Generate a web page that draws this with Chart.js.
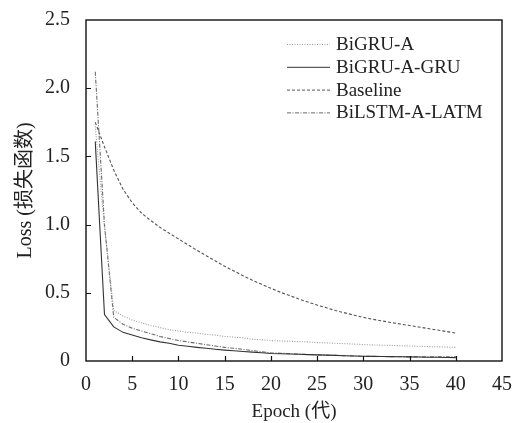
<!DOCTYPE html>
<html>
<head>
<meta charset="utf-8">
<script src="https://cdn.jsdelivr.net/npm/chart.js@4.4.0/dist/chart.umd.min.js"></script>
<style>
  html, body { margin: 0; padding: 0; background: #fff; }
</style>
</head>
<body>
<canvas id="lossChart" width="516" height="423"></canvas>
<script>
// values, one per epoch
const epochs = [1, 2, 3, 4, 5, 6, 7, 8, 9, 10, 11, 12, 13, 14, 15, 16, 17, 18, 19, 20,
  21, 22, 23, 24, 25, 26, 27, 28, 29, 30, 31, 32, 33, 34, 35, 36, 37, 38, 39, 40];

const bigruA = [1.72, 0.98, 0.37, 0.33, 0.30, 0.28, 0.26, 0.245, 0.23, 0.22,
  0.21, 0.205, 0.195, 0.19, 0.18, 0.175, 0.17, 0.16, 0.155, 0.15,
  0.147, 0.145, 0.142, 0.14, 0.135, 0.133, 0.13, 0.127, 0.124, 0.12,
  0.118, 0.116, 0.114, 0.112, 0.11, 0.108, 0.106, 0.104, 0.102, 0.10];

const bigruAGru = [1.61, 0.34, 0.25, 0.21, 0.19, 0.17, 0.155, 0.14, 0.13, 0.115,
  0.108, 0.10, 0.093, 0.086, 0.08, 0.075, 0.07, 0.065, 0.06, 0.055,
  0.053, 0.051, 0.049, 0.047, 0.045, 0.043, 0.041, 0.039, 0.037, 0.035,
  0.034, 0.033, 0.032, 0.031, 0.03, 0.029, 0.028, 0.027, 0.026, 0.025];

const baseline = [1.75, 1.57, 1.40, 1.26, 1.16, 1.085, 1.03, 0.98, 0.937, 0.895,
  0.853, 0.812, 0.772, 0.733, 0.695, 0.66, 0.625, 0.592, 0.562, 0.533,
  0.505, 0.48, 0.455, 0.432, 0.41, 0.39, 0.37, 0.353, 0.336, 0.32,
  0.306, 0.294, 0.282, 0.271, 0.26, 0.249, 0.238, 0.227, 0.216, 0.205];

const bilstmALatm = [2.12, 1.0, 0.32, 0.27, 0.24, 0.22, 0.20, 0.18, 0.165, 0.15,
  0.14, 0.13, 0.12, 0.11, 0.10, 0.093, 0.085, 0.077, 0.068, 0.06,
  0.057, 0.054, 0.051, 0.048, 0.045, 0.043, 0.041, 0.039, 0.037, 0.035,
  0.034, 0.033, 0.032, 0.031, 0.03, 0.03, 0.03, 0.03, 0.03, 0.03];

const seriesNames = ['BiGRU-A', 'BiGRU-A-GRU', 'Baseline', 'BiLSTM-A-LATM'];
const xTicks = [0, 5, 10, 15, 20, 25, 30, 35, 40, 45];
const yTicks = [0, 0.5, 1.0, 1.5, 2.0, 2.5];

const serif = '"Liberation Serif", "Times New Roman", "Noto Sans CJK SC", serif';

const lineStyles = [
  { color: '#9a9a9a', dash: [1, 1.5] },
  { color: '#333333', dash: [] },
  { color: '#555555', dash: [3, 2] },
  { color: '#6a6a6a', dash: [4, 1.5, 1, 1.5] }
];

const seriesData = [bigruA, bigruAGru, baseline, bilstmALatm];

const datasets = seriesNames.map((name, i) => ({
  label: name,
  data: epochs.map((e, j) => ({ x: e, y: seriesData[i][j] })),
  borderColor: lineStyles[i].color,
  borderDash: lineStyles[i].dash,
  borderWidth: 1.1,
  pointRadius: 0,
  fill: false,
  tension: 0
}));

// frame, inward tick marks and the legend inside the plot
const framePlugin = {
  id: 'frame',
  afterDraw(chart) {
    const { ctx, chartArea: a, scales } = chart;
    ctx.save();
    ctx.strokeStyle = '#111';
    ctx.lineWidth = 1.4;
    ctx.setLineDash([]);
    ctx.strokeRect(a.left, a.top, a.right - a.left, a.bottom - a.top);

    ctx.lineWidth = 1.2;
    ctx.beginPath();
    xTicks.slice(1, -1).forEach(v => {
      const px = Math.round(scales.x.getPixelForValue(v)) + 0.5;
      ctx.moveTo(px, a.bottom);
      ctx.lineTo(px, a.bottom - 5);
    });
    yTicks.slice(1, -1).forEach(v => {
      const py = Math.round(scales.y.getPixelForValue(v)) + 0.5;
      ctx.moveTo(a.left, py);
      ctx.lineTo(a.left + 5, py);
    });
    ctx.stroke();

    // legend
    ctx.font = '19px ' + serif;
    ctx.textBaseline = 'middle';
    ctx.fillStyle = '#222';
    seriesNames.forEach((name, i) => {
      const y = 44 + i * 22.8;
      ctx.strokeStyle = lineStyles[i].color;
      ctx.lineWidth = 1;
      ctx.setLineDash(lineStyles[i].dash);
      ctx.beginPath();
      ctx.moveTo(287, y + 0.5);
      ctx.lineTo(330, y + 0.5);
      ctx.stroke();
      ctx.fillText(name, 336, y + 1);
    });
    ctx.restore();
  }
};

new Chart(document.getElementById('lossChart'), {
  type: 'line',
  data: { datasets: datasets },
  options: {
    responsive: false,
    animation: false,
    layout: { padding: { top: 16, right: 14, left: 0, bottom: 0 } },
    plugins: {
      legend: { display: false },
      tooltip: { enabled: false }
    },
    scales: {
      x: {
        type: 'linear',
        min: 0,
        max: 45,
        afterBuildTicks: scale => { scale.ticks = xTicks.map(v => ({ value: v })); },
        afterFit: scale => { scale.height = 62; },
        grid: { display: false },
        border: { display: false },
        ticks: {
          color: '#222',
          padding: 4,
          maxRotation: 0,
          font: { family: serif, size: 20 },
          callback: v => String(v)
        },
        title: {
          display: true,
          text: 'Epoch (代)',
          color: '#222',
          padding: { top: 3, bottom: 0 },
          font: { family: serif, size: 19 }
        }
      },
      y: {
        type: 'linear',
        min: 0,
        max: 2.5,
        afterBuildTicks: scale => { scale.ticks = yTicks.map(v => ({ value: v })); },
        afterFit: scale => { scale.width = 86; },
        grid: { display: false },
        border: { display: false },
        ticks: {
          color: '#222',
          padding: 8,
          font: { family: serif, size: 20 },
          callback: v => (v === 0 ? '0' : v.toFixed(1))
        },
        title: {
          display: true,
          text: 'Loss (损失函数)',
          color: '#222',
          padding: { top: 14, bottom: 0 },
          font: { family: serif, size: 20 }
        }
      }
    }
  },
  plugins: [framePlugin]
});
</script>
</body>
</html>
